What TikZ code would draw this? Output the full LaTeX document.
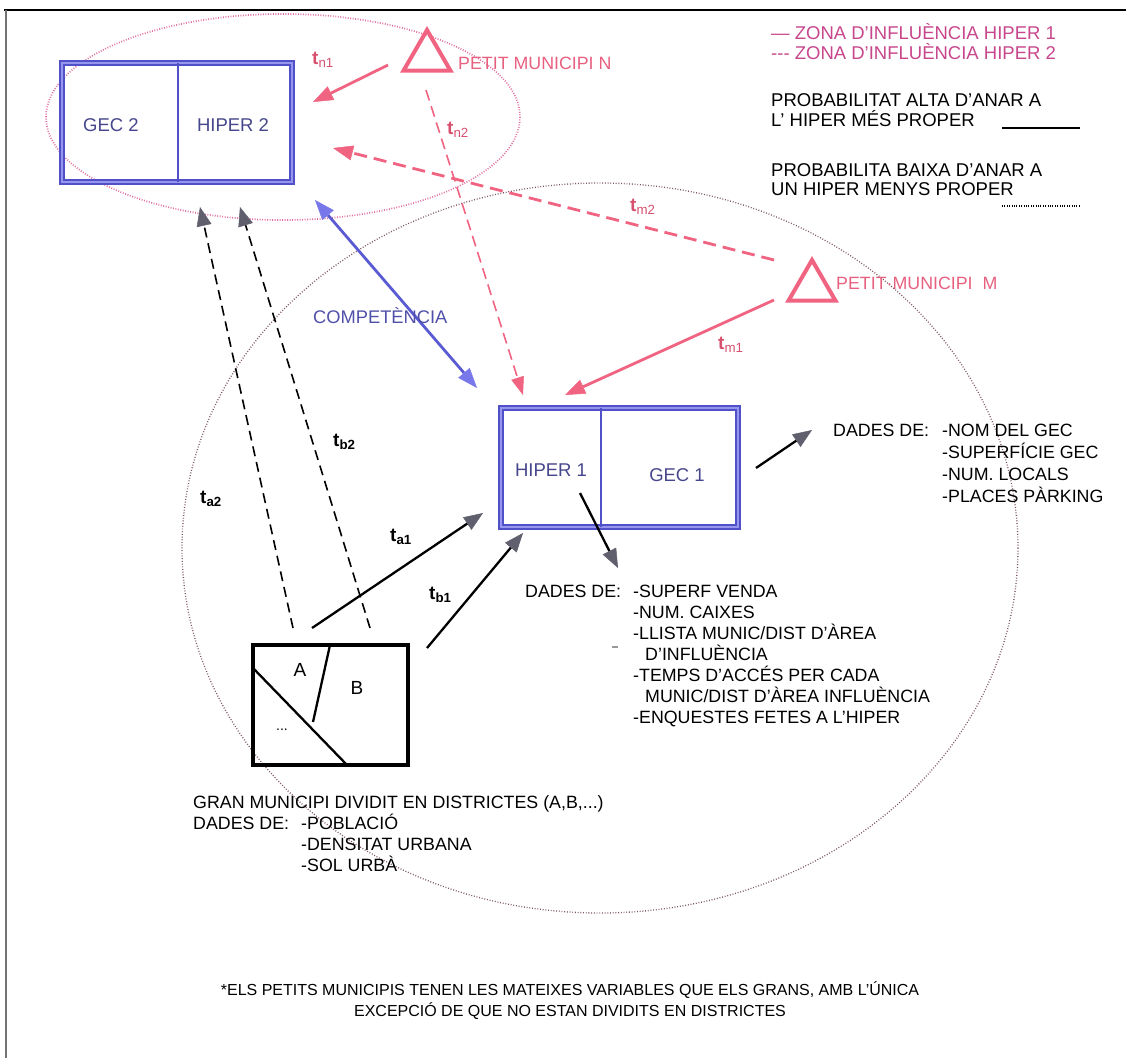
\documentclass[tikz,border=0pt]{standalone}
\usepackage{fontspec}
\setmainfont{Liberation Sans}
\usetikzlibrary{arrows.meta,shapes.geometric}
\definecolor{pinkA}{RGB}{240,100,130}
\definecolor{pinkT}{RGB}{232,96,128}
\definecolor{legT}{RGB}{200,70,140}
\definecolor{tPink}{RGB}{215,80,110}
\definecolor{ellS}{RGB}{225,110,160}
\definecolor{ellB}{RGB}{125,85,95}
\definecolor{boxB}{RGB}{80,80,200}
\definecolor{boxL}{RGB}{150,150,238}
\definecolor{boxT}{RGB}{70,70,140}
\definecolor{compT}{RGB}{80,80,170}
\definecolor{headG}{RGB}{95,95,110}
\definecolor{blueA}{RGB}{90,90,210}
\definecolor{blueH}{RGB}{120,120,235}
\begin{document}
\begin{tikzpicture}[x=1pt,y=-1pt,
  txt/.style={inner sep=0pt, anchor=base west, font=\fontsize{17.8}{20}\selectfont},
  note/.style={inner sep=0pt, anchor=base, font=\fontsize{16}{18}\selectfont},
  boxlbl/.style={inner sep=0pt, font=\fontsize{18.5}{20}\selectfont, text=boxT},
  legtxt/.style={txt, text=legT},
  legblk/.style={txt, font=\fontsize{18.5}{20}\selectfont},
  tlbl/.style={inner sep=0pt, anchor=base west, font=\fontsize{19}{20}\selectfont},
  bluebox/.style={draw=boxB, double=boxL, double distance=2pt, line width=2pt, inner sep=0pt},
  divider/.style={draw=boxB, line width=1.6pt},
  tri/.style={regular polygon, regular polygon sides=3, draw=pinkA, line width=4pt, inner sep=0pt, minimum size=54pt},
  ghead/.style={-{Triangle[length=19pt,width=15pt,color=headG,line width=0.5pt]}},
  blackarrow/.style={ghead, draw=black, line width=2.3pt},
  blackdash/.style={ghead, draw=black, line width=1.6pt, dash pattern=on 10pt off 6pt},
  pinkarrow/.style={-{Triangle[length=20pt,width=15pt,color=pinkA,line width=0.5pt]}, draw=pinkA, line width=2.8pt},
  pinkdashthick/.style={-{Triangle[length=20pt,width=15pt,color=pinkA,line width=0.5pt]}, draw=pinkA, line width=2.8pt, dash pattern=on 13pt off 7pt},
  pinkdashthin/.style={-{Triangle[length=18pt,width=13pt,color=pinkA,line width=0.5pt]}, draw=pinkA, line width=1.6pt, dash pattern=on 11pt off 6pt},
  bluearrow/.style={{Triangle[length=20pt,width=15pt,color=blueH,line width=0.5pt]}-{Triangle[length=20pt,width=15pt,color=blueH,line width=0.5pt]}, draw=blueA, line width=2.8pt},
  dotS/.style={draw=ellS, line width=1.7pt, dash pattern=on 0.9pt off 1.6pt},
  dotB/.style={draw=ellB, line width=1.3pt, dash pattern=on 0.9pt off 1.8pt}
]
\useasboundingbox (0,0) rectangle (1126,1058);
% frame
\draw[line width=2.5pt] (4,10) -- (1126,10);
\draw[line width=2pt, draw=black!55] (6,10) -- (6,1058);

% influence zones
\draw[dotB] (600,548) ellipse [x radius=418, y radius=365];
\draw[dotS] (283,117) ellipse [x radius=237, y radius=103];

% HIPER 2 / GEC 2 box
\node[bluebox, minimum width=230pt, minimum height=119pt] (box2) at (177,122.5) {};
\draw[divider] (178,63) -- (178,182);
\node[boxlbl] (gec2) at (111,125) {GEC 2};
\node[boxlbl] (hiper2) at (233,125) {HIPER 2};

% HIPER 1 / GEC 1 box
\node[bluebox, minimum width=237pt, minimum height=119pt] (box1) at (619.5,467.5) {};
\draw[divider] (601,408) -- (601,527);
\node[boxlbl] (hiper1) at (551,470) {HIPER 1};
\node[boxlbl] (gec1) at (677,475) {GEC 1};

% small municipalities
\node[tri] (trN) at (427,57) {};
\node[txt, text=pinkT] (petitN) at (458,69) {PETIT MUNICIPI N};
\node[tri] (trM) at (812,287) {};
\node[txt, text=pinkT] (petitM) at (836,289) {PETIT·MUNICIPI\ \ M};

% legend
\node[legtxt, font=\fontsize{18.5}{20}\selectfont] (lz1) at (771,39) {— ZONA D'INFLUÈNCIA HIPER 1};
\node[legtxt, font=\fontsize{18.5}{20}\selectfont] (lz2) at (771,59) {-{}-{}- ZONA D'INFLUÈNCIA HIPER 2};
\node[legblk] (la1) at (771,106) {PROBABILITAT ALTA D'ANAR A};
\node[legblk] (la2) at (771,126) {L' HIPER MÉS PROPER};
\coordinate (sl1) at (1002,128); \coordinate (sl2) at (1080,128);
\draw[line width=1.5pt] (sl1) -- (sl2);
\node[legblk] (lb1) at (771,176) {PROBABILITA BAIXA D'ANAR A};
\node[legblk] (lb2) at (771,195) {UN HIPER MENYS PROPER};
\coordinate (dl1) at (1002,206); \coordinate (dl2) at (1080,206);
\draw[line width=1.2pt, dash pattern=on 0.8pt off 1.6pt] (dl1) -- (dl2);

% district box
\node[draw, line width=4.5pt, minimum width=155pt, minimum height=120pt, inner sep=0pt] (dist) at (330.5,705) {};
\coordinate (dg1) at (253,668); \coordinate (dg2) at (347,765);
\draw[line width=2.3pt] (dg1) -- (dg2);
\coordinate (dv1) at (330,645); \coordinate (dv2) at (313,722);
\draw[line width=2.3pt] (dv1) -- (dv2);
\node[inner sep=0pt, font=\fontsize{19}{20}\selectfont] (dA) at (300,670) {A};
\node[inner sep=0pt, font=\fontsize{19}{20}\selectfont] (dB) at (357,688) {B};
\node[inner sep=0pt, font=\fontsize{14}{20}\selectfont] (dD) at (282,730) {...};

% connectors: pink
\coordinate (n1s) at (388,65); \coordinate (n1e) at (313,102);
\draw[pinkarrow] (n1s) -- (n1e);
\node[tlbl, text=tPink] (tn1) at (312,64) {\textbf{t}\textsubscript{n1}};
\coordinate (n2s) at (426,90); \coordinate (n2e) at (523,395);
\draw[pinkdashthin] (n2s) -- (n2e);
\node[tlbl, text=tPink] (tn2) at (447,134) {\textbf{t}\textsubscript{n2}};
\coordinate (m2s) at (774,260); \coordinate (m2e) at (333,148);
\draw[pinkdashthick] (m2s) -- (m2e);
\node[tlbl, text=tPink] (tm2) at (630,211) {\textbf{t}\textsubscript{m2}};
\coordinate (m1s) at (774,300); \coordinate (m1e) at (565,395);
\draw[pinkarrow] (m1s) -- (m1e);
\node[tlbl, text=tPink] (tm1) at (718,349) {\textbf{t}\textsubscript{m1}};

% competence
\coordinate (cs) at (315,200); \coordinate (ce) at (477,388);
\draw[bluearrow] (cs) -- (ce);
\node[txt, text=compT, font=\fontsize{18.3}{20}\selectfont] (comp) at (313,323) {COMPETÈNCIA};

% connectors: black
\coordinate (a2s) at (293,628); \coordinate (a2e) at (200,207);
\draw[blackdash] (a2s) -- (a2e);
\coordinate (b2s) at (370,628); \coordinate (b2e) at (240,207);
\draw[blackdash] (b2s) -- (b2e);
\node[tlbl] (ta2) at (200,503) {\textbf{t}\textsubscript{\textbf{a2}}};
\node[tlbl] (tb2) at (333,446) {\textbf{t}\textsubscript{\textbf{b2}}};
\coordinate (a1s) at (312,628); \coordinate (a1e) at (483,513);
\draw[blackarrow] (a1s) -- (a1e);
\node[tlbl] (ta1) at (390,541) {\textbf{t}\textsubscript{\textbf{a1}}};
\coordinate (b1s) at (427,648); \coordinate (b1e) at (523,533);
\draw[blackarrow] (b1s) -- (b1e);
\node[tlbl] (tb1) at (429,599) {\textbf{t}\textsubscript{\textbf{b1}}};
\coordinate (gs) at (756,468); \coordinate (ge) at (812,430);
\draw[blackarrow] (gs) -- (ge);
\coordinate (hs) at (580,493); \coordinate (he) at (618,568);
\draw[blackarrow] (hs) -- (he);

% data texts GEC
\node[txt] (dg) at (833,436) {DADES DE:};
\node[txt] (dg1t) at (942,436) {-NOM DEL GEC};
\node[txt] (dg2t) at (942,458) {-SUPERFÍCIE GEC};
\node[txt] (dg3t) at (942,480) {-NUM. LOCALS};
\node[txt] (dg4t) at (942,502) {-PLACES PÀRKING};

% data texts HIPER
\node[txt] (dh) at (525,597) {DADES DE:};
\node[txt] (dh1) at (633,597) {-SUPERF VENDA};
\node[txt] (dh2) at (633,618) {-NUM. CAIXES};
\node[txt] (dh3) at (633,639) {-LLISTA MUNIC/DIST D'ÀREA};
\node[txt] (dh4) at (645,660) {D'INFLUÈNCIA};
\node[txt] (dh5) at (633,681) {-TEMPS D'ACCÉS PER CADA};
\node[txt] (dh6) at (645,702) {MUNIC/DIST D'ÀREA INFLUÈNCIA};
\node[txt] (dh7) at (633,723) {-ENQUESTES FETES A L'HIPER};
\coordinate (sp1) at (612,647); \coordinate (sp2) at (618,647);
\draw[line width=1.5pt, draw=black!40] (sp1) -- (sp2);

% gran municipi texts
\node[txt] (gm) at (193,808) {GRAN MUNICIPI DIVIDIT EN DISTRICTES (A,B,...)};
\node[txt] (gd) at (193,829) {DADES DE:};
\node[txt] (gd1) at (301,829) {-POBLACIÓ};
\node[txt] (gd2) at (301,850) {-DENSITAT URBANA};
\node[txt] (gd3) at (301,871) {-SOL URBÀ};

% note
\node[note] (nt1) at (570,995) {*ELS PETITS MUNICIPIS TENEN LES MATEIXES VARIABLES QUE ELS GRANS, AMB L'ÚNICA};
\node[note] (nt2) at (570,1016) {EXCEPCIÓ DE QUE NO ESTAN DIVIDITS EN DISTRICTES};
\end{tikzpicture}
\end{document}
